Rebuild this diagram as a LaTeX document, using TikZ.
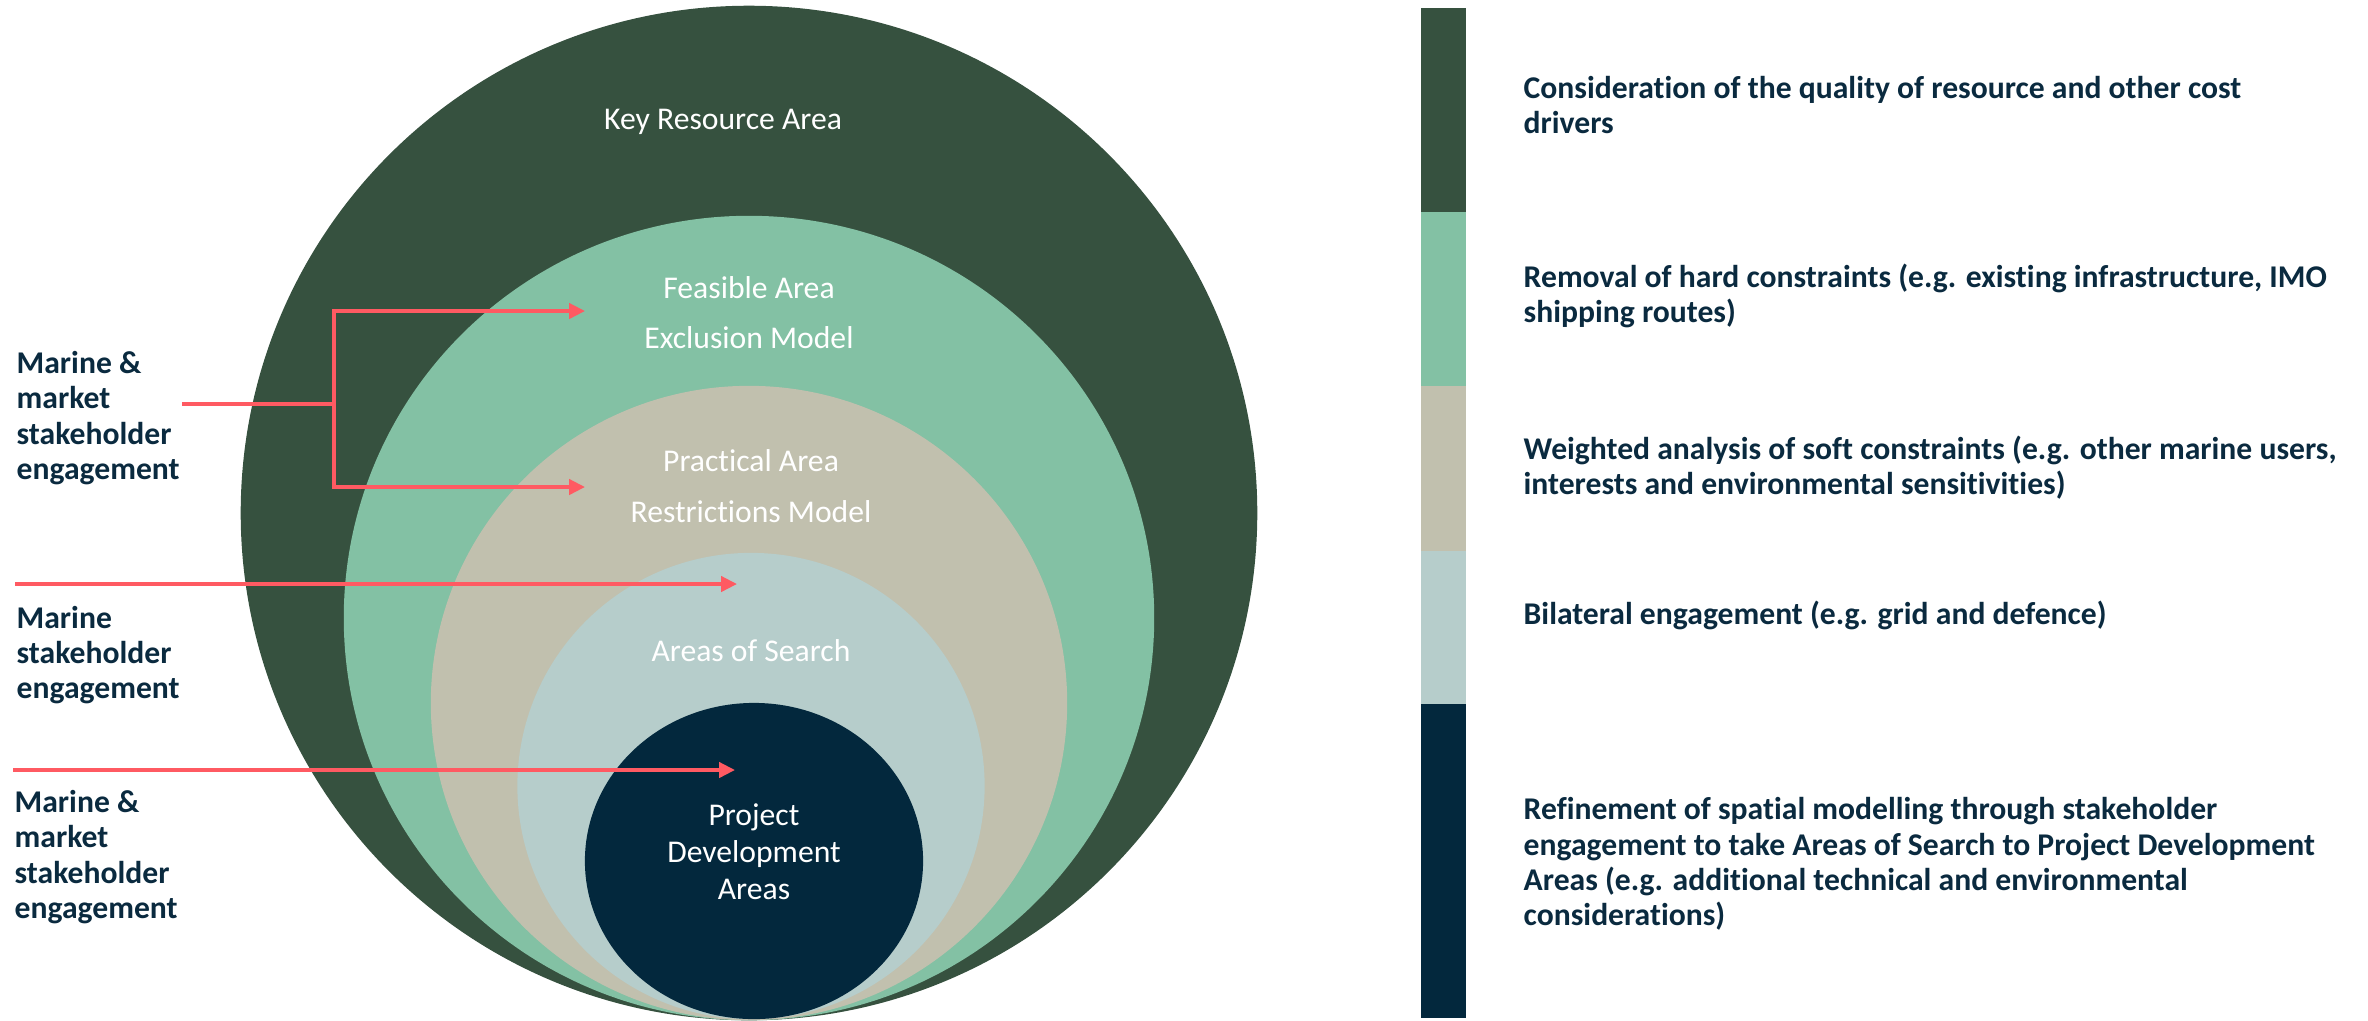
\documentclass[tikz,border=0pt]{standalone}
\usepackage{fontspec}
\setmainfont{Carlito}[Ligatures=NoCommon]
\usepackage{xcolor}
\usepackage{tikz}
\usetikzlibrary{shapes.geometric, arrows.meta}

\definecolor{kracol}{HTML}{36513F}
\definecolor{feacol}{HTML}{83C1A4}
\definecolor{pracol}{HTML}{C1C0AE}
\definecolor{aoscol}{HTML}{B6CDCB}
\definecolor{pdacol}{HTML}{03283D}
\definecolor{linkred}{HTML}{FF5A62}
\definecolor{inknavy}{HTML}{0A2A3F}

\begin{document}
\begin{tikzpicture}[x=0.01cm, y=-0.01cm,
  zone/.style={ellipse, draw=none, inner sep=0pt, outer sep=0pt},
  zonetext/.style={text=white, align=center, font=\fontsize{9}{10.5}\selectfont},
  sidetext/.style={text=inknavy, align=left, anchor=west, inner sep=0pt,
                   font=\fontsize{9}{10}\selectfont\bfseries},
  link/.style={draw=linkred, line width=1pt},
  linkarrow/.style={link, -{Triangle[length=4.5pt, width=4.3pt]}}]

\useasboundingbox (0,0) rectangle (2368,1020);

% nested areas
\node[zone, fill=kracol, minimum width=10.16cm, minimum height=10.14cm] (kra) at (749,513) {};
\node[zone, fill=feacol, minimum width=8.10cm, minimum height=8.04cm] (fea) at (749,618) {};
\node[zone, fill=pracol, minimum width=6.36cm, minimum height=6.34cm] (pra) at (749,703) {};
\node[zone, fill=aoscol, minimum width=4.67cm, minimum height=4.66cm] (aos) at (751,786) {};
\node[zone, fill=pdacol, minimum width=3.38cm, minimum height=3.16cm] (pda) at (754,861) {};

\node[zonetext] (kralbl) at (723,122) {Key Resource Area};
\node[zonetext] (fealbl) at (749,313) {Feasible Area\\[3.7pt]Exclusion Model};
\node[zonetext] (pralbl) at (751,486) {Practical Area\\[3.9pt]Restrictions Model};
\node[zonetext] (aoslbl) at (751,651) {Areas of Search};
\node[zonetext] (pdalbl) at (754,852) {Project\\Development\\Areas};

% engagement labels
\node[sidetext] (eng1) at (16,418) {Marine \&\\market\\stakeholder\\engagement};
\node[sidetext] (eng2) at (16,655) {Marine\\stakeholder\\engagement};
\node[sidetext] (eng3) at (14,857) {Marine \&\\market\\stakeholder\\engagement};

\coordinate (in1) at (182,404);
\coordinate (fork) at (334,404);
\coordinate (tipfea) at (585,311);
\coordinate (tippra) at (585,487);
\coordinate (in2) at (15,584);
\coordinate (tipaos) at (737,584);
\coordinate (in3) at (13,770);
\coordinate (tippda) at (735,770);

\draw[link] (in1) -- (fork);
\draw[linkarrow] (fork) |- (tipfea);
\draw[linkarrow] (fork) |- (tippra);
\draw[linkarrow] (in2) -- (tipaos);
\draw[linkarrow] (in3) -- (tippda);

% colour key
\fill[kracol] (1421,8) rectangle (1466,212);
\fill[feacol] (1421,212) rectangle (1466,386);
\fill[pracol] (1421,386) rectangle (1466,551);
\fill[aoscol] (1421,551) rectangle (1466,704);
\fill[pdacol] (1421,704) rectangle (1466,1018);

\node[sidetext] (keykra) at (1523,105) {Consideration of the quality of resource and other cost\\drivers};
\node[sidetext] (keyfea) at (1523,296) {Removal of hard constraints (e.g. existing infrastructure, IMO\\shipping routes)};
\node[sidetext] (keypra) at (1523,468) {Weighted analysis of soft constraints (e.g. other marine users,\\interests and environmental sensitivities)};
\node[sidetext] (keyaos) at (1523,615) {Bilateral engagement (e.g. grid and defence)};
\node[sidetext] (keypda) at (1523,864) {Refinement of spatial modelling through stakeholder\\engagement to take Areas of Search to Project Development\\Areas (e.g. additional technical and environmental\\considerations)};
\end{tikzpicture}
\end{document}
